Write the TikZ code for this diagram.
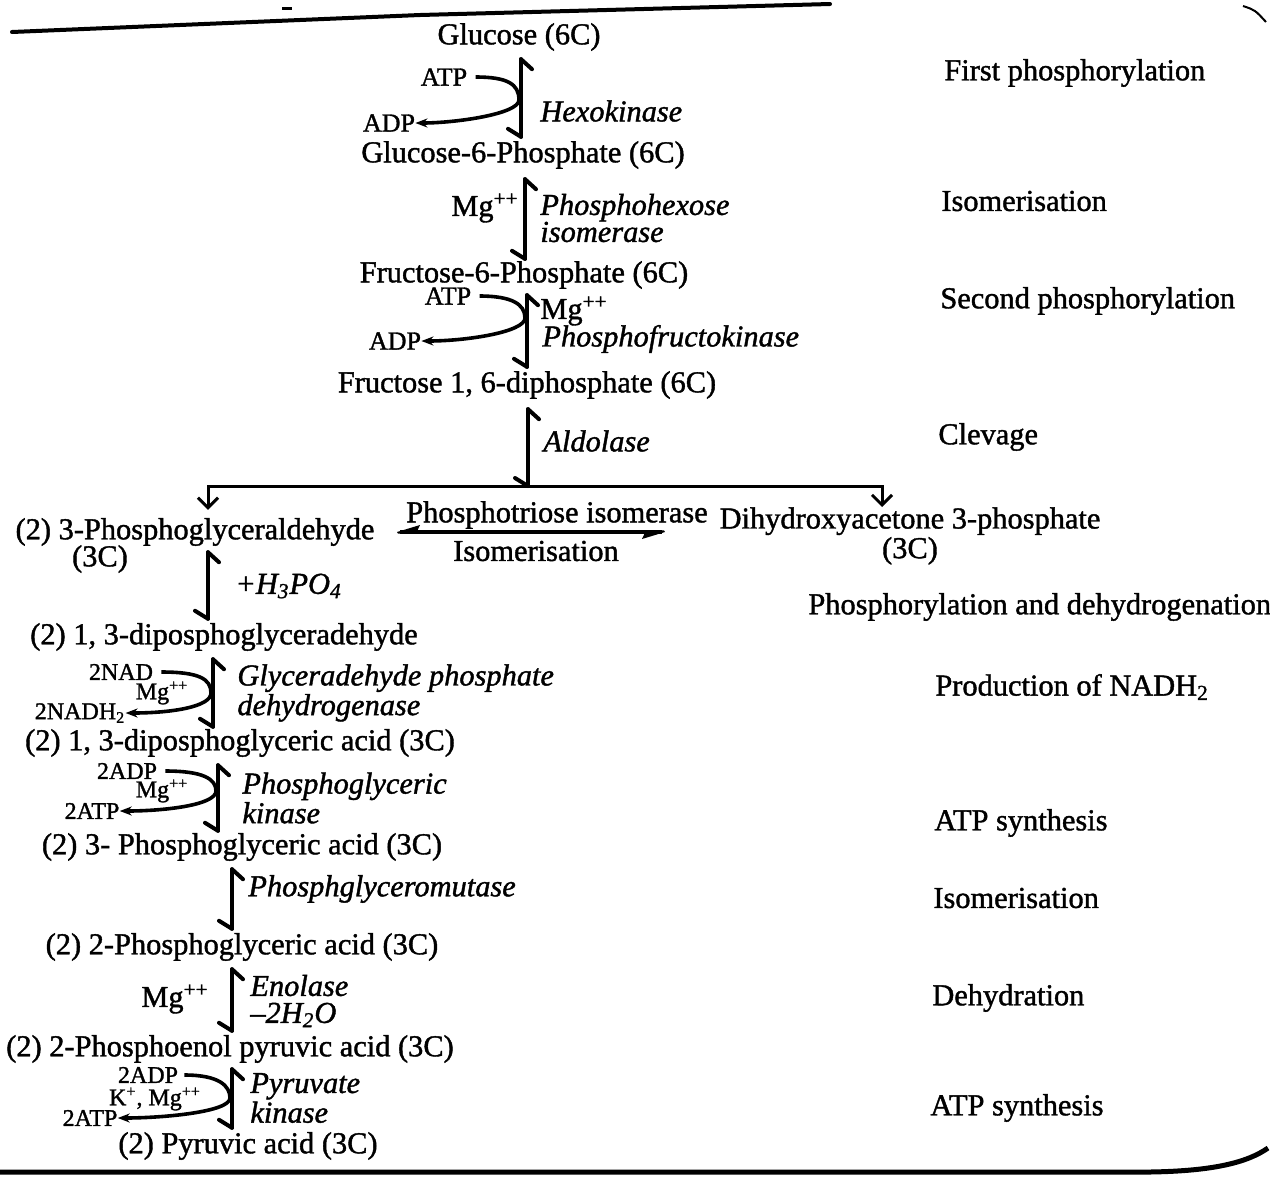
\documentclass[tikz,border=0pt]{standalone}
\usepackage{fontspec}
\setmainfont{Liberation Serif}[FakeBold=1.3]
\usetikzlibrary{arrows.meta}
\pgfdeclarearrow{
  name = BarbTop,
  setup code = {
    \pgfarrowssettipend{0pt}
    \pgfarrowssetlineend{0pt}
    \pgfarrowssetbackend{-5pt}
    \pgfarrowssetvisualbackend{-5pt}
    \pgfarrowshullpoint{0pt}{0pt}
    \pgfarrowshullpoint{-5pt}{-5.5pt}
  },
  drawing code = {
    \pgfsetlinewidth{2pt}\pgfsetroundcap\pgfsetroundjoin
    \pgfpathmoveto{\pgfpoint{-5pt}{-5.5pt}}
    \pgfpathlineto{\pgfpoint{0pt}{0pt}}
    \pgfusepathqstroke
  },
}
\pgfdeclarearrow{
  name = BarbBot,
  setup code = {
    \pgfarrowssettipend{0pt}
    \pgfarrowssetlineend{0pt}
    \pgfarrowssetbackend{-4pt}
    \pgfarrowssetvisualbackend{-4pt}
    \pgfarrowshullpoint{0pt}{0pt}
    \pgfarrowshullpoint{-4pt}{-6.5pt}
  },
  drawing code = {
    \pgfsetlinewidth{2pt}\pgfsetroundcap\pgfsetroundjoin
    \pgfpathmoveto{\pgfpoint{-4pt}{-6.5pt}}
    \pgfpathlineto{\pgfpoint{0pt}{0pt}}
    \pgfusepathqstroke
  },
}
\pgfdeclarearrow{
  name = HalfWedge,
  setup code = {
    \pgfarrowssettipend{0pt}
    \pgfarrowssetlineend{-1pt}
    \pgfarrowssetbackend{-11pt}
    \pgfarrowssetvisualbackend{-11pt}
    \pgfarrowshullpoint{0pt}{0pt}
    \pgfarrowshullpoint{-11pt}{-3.5pt}
    \pgfarrowshullpoint{-11pt}{0pt}
  },
  drawing code = {
    \pgfpathmoveto{\pgfpoint{0.5pt}{0pt}}
    \pgfpathlineto{\pgfpoint{-11pt}{-3.5pt}}
    \pgfpathlineto{\pgfpoint{-9pt}{0.8pt}}
    \pgfpathlineto{\pgfpoint{0pt}{0.8pt}}
    \pgfpathclose
    \pgfusepathqfill
  },
}
\newcommand\cmpfont{\fontsize{15.2}{13.5}\selectfont}
\newcommand\enzfont{\fontsize{15.2}{13.5}\selectfont\itshape}
\newcommand\sidefont{\fontsize{13}{11}\selectfont}
\newcommand\smallfont{\fontsize{12}{10.5}\selectfont}
\tikzset{
  cmp/.style={font=\cmpfont, inner sep=1pt, align=center},
  enz/.style={font=\enzfont, anchor=west, inner sep=1pt, align=left},
  side/.style={font=\sidefont, inner sep=1pt},
  sml/.style={font=\smallfont, inner sep=1pt},
  lab/.style={font=\cmpfont, anchor=west, inner sep=0pt},
  rev/.style={line width=2pt, line cap=round, {BarbTop}-{BarbBot}},
  revh/.style={line width=2pt, {HalfWedge}-{HalfWedge}},
  curv/.style={line width=1.8pt, -{Stealth[length=6pt,width=4.5pt]}},
  branch/.style={line width=1.5pt, -{Straight Barb[length=5pt,width=10pt]}},
  frame/.style={line width=2pt, line cap=round, line join=round},
}
\begin{document}
\begin{tikzpicture}[x=0.5pt,y=-0.5pt]
\fill[white] (0,0) rectangle (1270,1180);
\useasboundingbox (0,0) rectangle (1270,1180);
% page edges
\draw[frame] (12,32) -- (420,15) -- (830,4);
\draw[line width=1.5pt] (282,8) -- (292,8);
\draw[line width=1pt] (1243,6) .. controls (1255,10) .. (1266,22);
\draw[line width=2.5pt] (0,1172) -- (1150,1172) .. controls (1215,1171) and (1248,1162) .. (1268,1148);

% compounds
\node[cmp] (glc) at (519,37) {Glucose (6C)};
\node[cmp] (g6p) at (523,155) {Glucose-6-Phosphate (6C)};
\node[cmp] (f6p) at (524,275) {Fructose-6-Phosphate (6C)};
\node[cmp] (f16) at (527,385) {Fructose 1, 6-diphosphate (6C)};
\node[cmp] (pgal) at (195,532) {(2) 3-Phosphoglyceraldehyde};
\node[cmp] (pgalc) at (100,559) {(3C)};
\node[cmp] (dhap) at (910,536) {Dihydroxyacetone 3-phosphate\\(3C)};
\node[cmp] (dpga) at (224,637) {(2) 1, 3-diposphoglyceradehyde};
\node[cmp] (dpg) at (240,743) {(2) 1, 3-diposphoglyceric acid (3C)};
\node[cmp] (pg3) at (242,847) {(2) 3- Phosphoglyceric acid (3C)};
\node[cmp] (pg2) at (242,947) {(2) 2-Phosphoglyceric acid (3C)};
\node[cmp] (pep) at (230,1049) {(2) 2-Phosphoenol pyruvic acid (3C)};
\node[cmp] (pyr) at (248,1146) {(2) Pyruvic acid (3C)};

% enzymes
\node[enz] (hex) at (538,111) {Hexokinase};
\node[enz] (phi) at (538,218) {Phosphohexose\\isomerase};
\node[enz,font=\cmpfont] (mg3) at (538,311) {Mg\textsuperscript{++}};
\node[enz] (pfk) at (540,339) {Phosphofructokinase};
\node[enz] (ald) at (541,441) {Aldolase};
\node[cmp] (pti) at (557,515) {Phosphotriose isomerase};
\node[cmp] (iso) at (536,551) {Isomerisation};
\node[enz] (h3p) at (233,586) {+H\textsubscript{3}PO\textsubscript{4}};
\node[enz] (gapd) at (235,693) {Glyceradehyde phosphate\\dehydrogenase};
\node[enz] (pgk) at (240,798) {Phosphoglyceric\\kinase};
\node[enz] (pgm) at (246,889) {Phosphglyceromutase};
\node[enz] (eno) at (248,1001) {Enolase\\--2H\textsubscript{2}O};
\node[enz] (pk) at (248,1098) {Pyruvate\\kinase};

% side reactants
\node[side] (atp1) at (444,77) {ATP};
\node[side] (adp1) at (389,123) {ADP};
\node[cmp] (mg2) at (485,208) {Mg\textsuperscript{++}};
\node[side] (atp3) at (448,296) {ATP};
\node[side] (adp3) at (395,341) {ADP};
\node[sml] (nad) at (121,672) {2NAD};
\node[sml] (mg6) at (162,693) {Mg\textsuperscript{++}};
\node[sml] (nadh) at (80,713) {2NADH\textsubscript{2}};
\node[sml] (adp7) at (127,771) {2ADP};
\node[sml] (mg7) at (162,791) {Mg\textsuperscript{++}};
\node[sml] (atp7) at (92,811) {2ATP};
\node[cmp] (mg9) at (175,999) {Mg\textsuperscript{++}};
\node[sml] (adp10) at (148,1075) {2ADP};
\node[sml] (kmg) at (155,1099) {K\textsuperscript{+}, Mg\textsuperscript{++}};
\node[sml] (atp10) at (90,1118) {2ATP};

% stage labels
\node[lab] (l1) at (944,73) {First phosphorylation};
\node[lab] (l2) at (941,201) {Isomerisation};
\node[lab] (l3) at (940,301) {Second phosphorylation};
\node[lab] (l4) at (938,437) {Clevage};
\node[lab] (l5) at (808,607) {Phosphorylation and dehydrogenation};
\node[lab] (l6) at (935,687) {Production of NADH\textsubscript{2}};
\node[lab] (l7) at (934,823) {ATP synthesis};
\node[lab] (l8) at (933,898) {Isomerisation};
\node[lab] (l9) at (932,998) {Dehydration};
\node[lab] (l10) at (930,1108) {ATP synthesis};

% x positions of the main arrows
\coordinate (x1) at (521,0);
\coordinate (x2) at (525,0);
\coordinate (x3) at (527,0);
\coordinate (x4) at (528,0);
\coordinate (x5) at (208,0);
\coordinate (x6) at (213,0);
\coordinate (x7) at (218,0);
\coordinate (x8) at (232,0);
\coordinate (split) at (528,486);
\coordinate (bl) at (208,0);
\coordinate (br) at (882,0);
\coordinate (hl) at (398,0);
\coordinate (hr) at (664,0);

% main reversible arrows
\draw[rev] ([yshift=-3pt]glc.south -| x1) -- ([yshift=1pt]g6p.north -| x1);
\draw[rev] ([yshift=-4pt]g6p.south -| x2) -- ([yshift=0pt]f6p.north -| x2);
\draw[rev] ([yshift=-2pt]f6p.south -| x3) -- ([yshift=1pt]f16.north -| x3);
\draw[rev] ([yshift=-4pt]f16.south -| x4) -- (split);
\draw[rev] ([yshift=-2pt]pgal.south -| x5) -- ([yshift=1pt]dpga.north -| x5);
\draw[rev] ([yshift=-3pt]dpga.south -| x6) -- ([yshift=0pt]dpg.north -| x6);
\draw[rev] ([yshift=-3pt]dpg.south -| x7) -- ([yshift=0pt]pg3.north -| x7);
\draw[rev] ([yshift=-3pt]pg3.south -| x8) -- ([yshift=1pt]pg2.north -| x8);
\draw[rev] ([yshift=-3pt]pg2.south -| x8) -- ([yshift=1pt]pep.north -| x8);
\draw[rev] ([yshift=-2pt]pep.south -| x8) -- ([yshift=1pt]pyr.north -| x8);
\draw[revh] (pgal.east -| hl) -- (pgal.east -| hr);

% branching after aldolase
\draw[branch] (split) -| ([yshift=3pt]pgal.north -| bl);
\draw[branch] (split) -| ([yshift=-1pt]dhap.north -| br);

% side curved arrows
\coordinate (b1) at (519,100);
\coordinate (b3) at (525,318);
\coordinate (b6) at (211,693);
\coordinate (b7) at (216,791);
\coordinate (b10) at (230,1098);
\draw[curv] ([xshift=3pt]atp1.east) .. controls +(32,0) and +(0,-16) .. (b1) .. controls +(0,14) and +(40,0) .. ([xshift=-1pt]adp1.east);
\draw[curv] ([xshift=3pt]atp3.east) .. controls +(32,0) and +(0,-14) .. (b3) .. controls +(0,14) and +(45,0) .. ([xshift=-1pt]adp3.east);
\draw[curv] ([xshift=3pt]nad.east) .. controls +(38,0) and +(0,-14) .. (b6) .. controls +(0,14) and +(45,0) .. ([xshift=-1pt]nadh.east);
\draw[curv] ([xshift=3pt]adp7.east) .. controls +(38,0) and +(0,-12) .. (b7) .. controls +(0,14) and +(45,0) .. ([xshift=-1pt]atp7.east);
\draw[curv] ([xshift=2pt]adp10.east) .. controls +(35,0) and +(0,-12) .. (b10) .. controls +(0,14) and +(45,0) .. ([xshift=-1pt]atp10.east);
\end{tikzpicture}
\end{document}
